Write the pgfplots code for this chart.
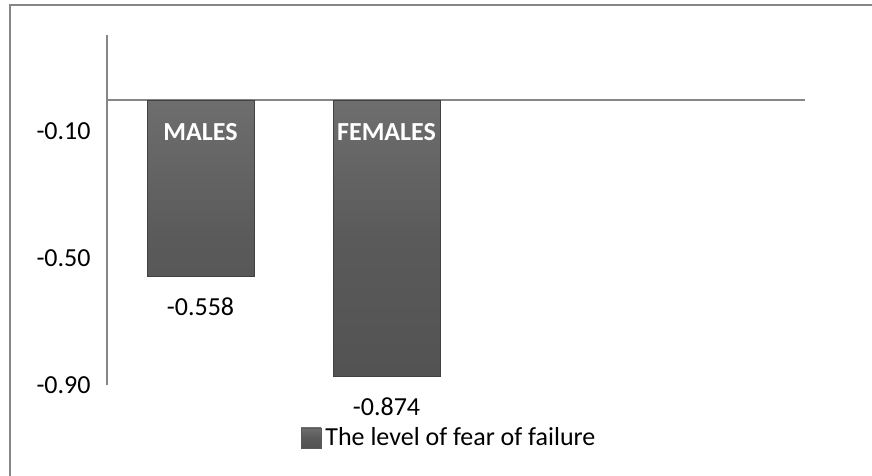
\documentclass[border=0pt]{standalone}
\usepackage{fontspec}
\setmainfont{Carlito}
\usepackage{pgfplots}
\pgfplotsset{compat=1.18}
\definecolor{axgray}{RGB}{134,134,134}
\definecolor{barfill}{RGB}{90,90,90}
\definecolor{baredge}{RGB}{66,66,66}
\newcommand{\lblfont}{\fontsize{13}{15}\selectfont}
\begin{document}
\begin{tikzpicture}
\path[use as bounding box] (-53.5pt,-45.5pt) rectangle (382.5pt,192.5pt);
\draw[axgray, line width=1pt] (-48.5pt,-46pt) -- (-48.5pt,189.75pt) -- (383pt,189.75pt);
\begin{axis}[
  at={(0pt,0pt)}, anchor=south west,
  scale only axis, width=349pt, height=175pt,
  xmin=-0.503, xmax=3.25, ymin=-0.9, ymax=0.205,
  axis x line*=middle, axis y line*=left,
  axis line style={axgray, line width=0.8pt},
  xtick=\empty, ytick={-0.9,-0.5,-0.1},
  major tick length=0pt,
  yticklabel={\pgfmathprintnumber[fixed,fixed zerofill,precision=2,assume math mode=true]{\tick}},
  yticklabel style={font=\lblfont, inner sep=0pt, xshift=-8pt},
  ybar, bar width=53.5pt,
  nodes near coords={\pgfmathprintnumber[fixed,fixed zerofill,precision=3,assume math mode=true]{\pgfplotspointmeta}},
  every node near coord/.append style={anchor=center, yshift=-15pt, font=\lblfont, text=black},
  legend style={at={(0.4914,-0.1514)}, anchor=center, draw=none, fill=none, font=\lblfont, legend cell align=left},
  legend image code/.code={\fill[barfill] (0pt,-5pt) rectangle (10pt,5pt);},
  clip=false,
]
\addplot[top color=barfill!88!white, bottom color=barfill!92!black, middle color=barfill, draw=baredge, line width=0.4pt] coordinates {(0,-0.558) (1,-0.874)};
\addlegendentry{The level of fear of failure}
\node[font=\lblfont\bfseries, text=white] at (axis cs:0,-0.101) {MALES};
\node[font=\lblfont\bfseries, text=white] at (axis cs:1,-0.101) {FEMALES};
\end{axis}
\end{tikzpicture}
\end{document}
